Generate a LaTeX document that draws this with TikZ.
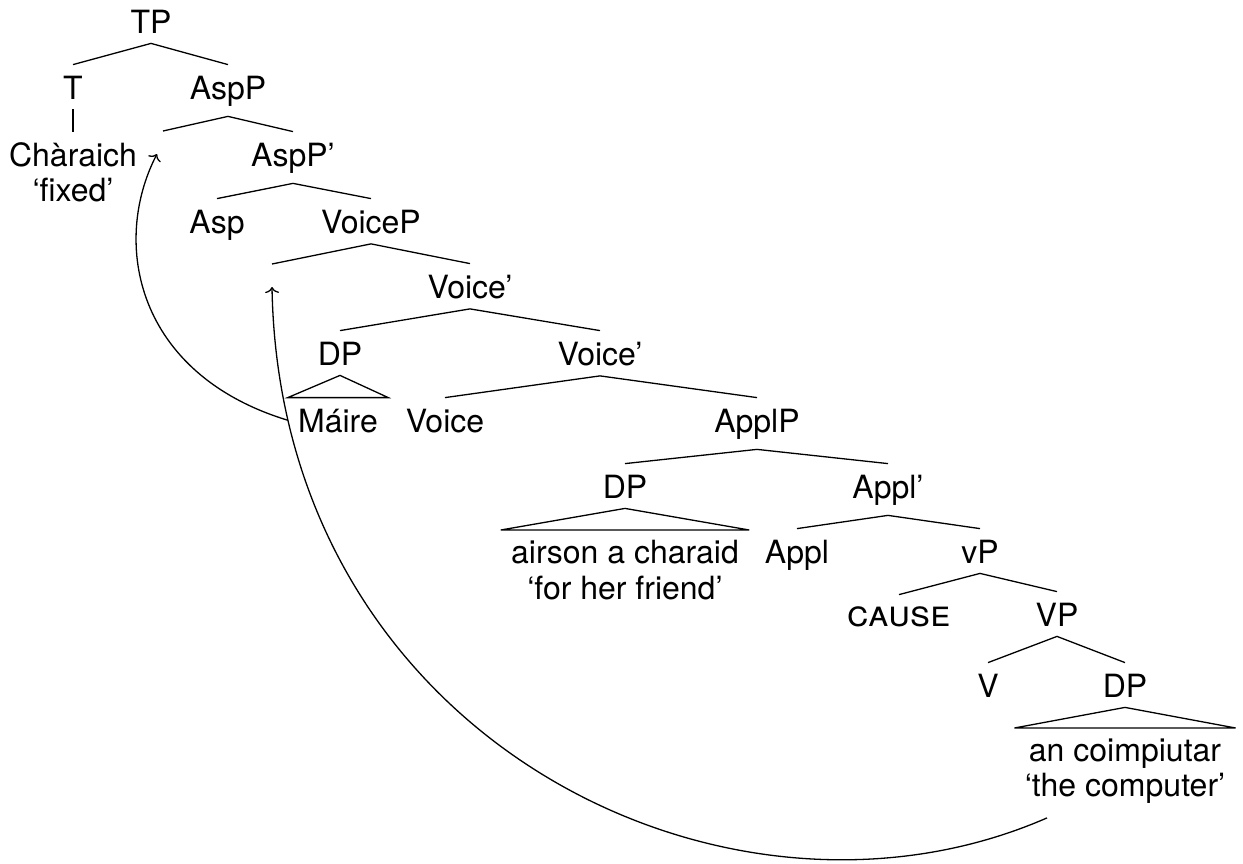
\documentclass[tikz,border=0pt]{standalone}
\usepackage{fontspec}
\setmainfont{TeX Gyre Heros}
\usetikzlibrary{calc,arrows.meta}
\begin{document}
\begin{tikzpicture}[x=0.5pt,y=-0.5pt,
  font=\fontsize{16}{17.75}\selectfont,
  lab/.style={anchor=base, inner sep=5pt, text height=12pt},
  phrase/.style={anchor=north, inner sep=5pt, align=center},
  branch/.style={line width=0.65pt},
  move/.style={line width=0.65pt, -{To[length=3pt,width=7pt]}}]
\useasboundingbox (0,0) rectangle (1243,863);

% labels of the tree
\node[lab] (TP)     at (151,33)  {TP};
\node[lab] (T)      at (73,99)   {T};
\node[lab] (AspP)   at (228,99)  {AspP};
\node[phrase] (char) at (73,132) {Chàraich\\‘fixed’};
\node[lab] (AspPb)  at (293,166) {AspP’};
\node[lab] (Asp)    at (217,233) {Asp};
\node[lab] (VoiceP) at (371,233) {VoiceP};
\node[lab] (Voiceb) at (470,298) {Voice’};
\node[lab] (DPa)    at (340,365) {DP};
\node[lab] (Voicec) at (600,365) {Voice’};
\node[lab] (Maire)  at (338,432) {Máire};
\node[lab] (Voice)  at (445,432) {Voice};
\node[lab] (ApplP)  at (757,432) {ApplP};
\node[lab] (DPb)    at (625,498) {DP};
\node[lab] (Applb)  at (888,498) {Appl’};
\node[phrase] (friend) at (625,530) {airson a charaid\\‘for her friend’};
\node[lab] (Appl)   at (797,563) {Appl};
\node[lab] (vP)     at (980,563) {vP};
\node[lab, text height=10.5pt] (cause) at (899,626) {\fontsize{18.5}{20}\selectfont\textsc{cause}};
\node[lab] (VP)     at (1057,626) {VP};
\node[lab] (V)      at (988,697) {V};
\node[lab] (DPc)    at (1125,697) {DP};
\node[phrase] (comp) at (1125,728) {an coimpiutar\\‘the computer’};

% empty specifier positions and the landing points of movement
\coordinate (specA) at (163,131);
\coordinate (specV) at (272,264);
\coordinate (landA) at (157,154);
\coordinate (landV) at (272,287);

% branches
\draw[branch] (T.north) -- (TP.south) -- (AspP.north);
\draw[branch] (T.south) -- (char.north);
\draw[branch] (specA) -- (AspP.south) -- (AspPb.north);
\draw[branch] (Asp.north) -- (AspPb.south) -- (VoiceP.north);
\draw[branch] (specV) -- (VoiceP.south) -- (Voiceb.north);
\draw[branch] (DPa.north) -- (Voiceb.south) -- (Voicec.north);
\draw[branch] (Voice.north) -- (Voicec.south) -- (ApplP.north);
\draw[branch] (DPb.north) -- (ApplP.south) -- (Applb.north);
\draw[branch] (Appl.north) -- (Applb.south) -- (vP.north);
\draw[branch] (cause.north) -- (vP.south) -- (VP.north);
\draw[branch] (V.north) -- (VP.south) -- (DPc.north);

% triangles over unanalysed phrases
\draw[branch] (DPa.south) -- (Maire.north west) -- (Maire.north east) -- cycle;
\draw[branch] (DPb.south) -- (friend.north west) -- (friend.north east) -- cycle;
\draw[branch] (DPc.south) -- (comp.north west) -- (comp.north east) -- cycle;

% movement arrows
\draw[move] (Maire.west) .. controls (136,374) and (111,243) .. (landA);
\draw[move] ($(comp.south)+(-78,4)$) .. controls (726,958) and (280,738) .. (landV);
\end{tikzpicture}
\end{document}
